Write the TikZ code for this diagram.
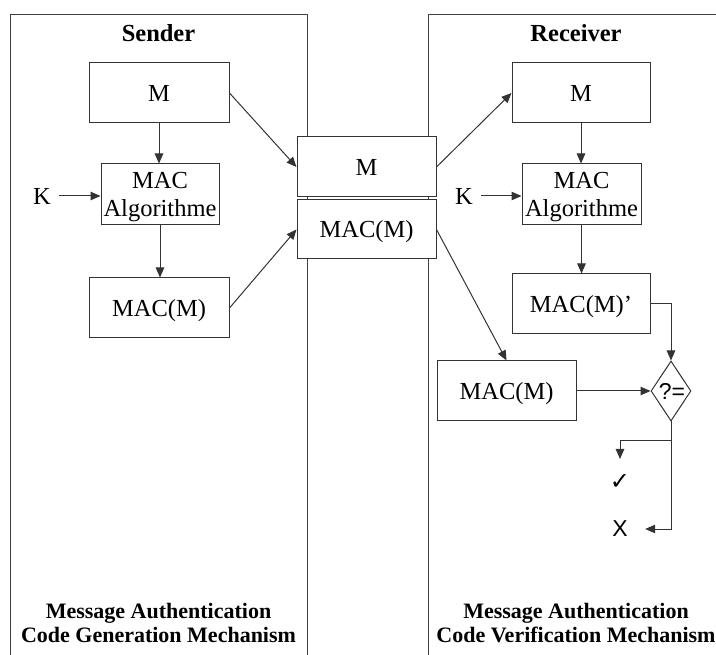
\documentclass[tikz,border=0pt]{standalone}
\usepackage{fontspec}
\setmainfont{Liberation Serif}
\newfontfamily\sansf{Liberation Sans}
\newfontfamily\dejavu{DejaVu Sans}
\usetikzlibrary{arrows.meta,shapes.geometric}
\begin{document}
\begin{tikzpicture}[x=1pt,y=-1pt,
  ln/.style={draw=black!80, line width=1pt},
  arr/.style={ln, -{Triangle[length=10pt,width=8.5pt]}},
  panel/.style={draw=black!75, line width=1pt},
  box/.style={draw=black!80, line width=1pt, fill=white, inner sep=0pt,
    font=\fontsize{24.5}{28}\selectfont, align=center, text depth=0pt},
  head/.style={font=\fontsize{24.5}{26}\selectfont\bfseries},
  foot/.style={font=\fontsize{22}{24}\selectfont\bfseries, align=center},
  lbl/.style={font=\fontsize{24.5}{28}\selectfont, inner sep=0pt, align=center}
]
\useasboundingbox (0,0) rectangle (716,655);
% panels
\draw[panel] (10,655) -- (10,14.5) -- (307,14.5) -- (307,655);
\draw[panel] (716,14.5) -- (428,14.5) -- (428,655);
\node[head] (sh) at (158.5,33) {Sender};
\node[head] (rh) at (576,33) {Receiver};
% sender
\node[box, minimum width=140pt, minimum height=60pt] (lm) at (159,93) {M};
\node[box, minimum width=118pt, minimum height=61pt] (la) at (160,194.5) {};
\node[lbl] (lat) at ([yshift=-3pt]la.center) {MAC\\Algorithme};
\node[box, minimum width=140pt, minimum height=60pt] (lmac) at (159,308) {MAC(M)};
\node[lbl] (k1) at (42,196) {K};
% middle
\node[box, minimum width=139pt, minimum height=60pt] (mm) at (366.5,167) {M};
\node[box, minimum width=139pt, minimum height=59pt] (mmac) at (366.5,229.5) {MAC(M)};
% receiver
\node[box, minimum width=138pt, minimum height=60pt] (rm) at (581,93) {M};
\node[box, minimum width=119pt, minimum height=61pt] (ra) at (581.5,194.5) {};
\node[lbl] (rat) at ([yshift=-3pt]ra.center) {MAC\\Algorithme};
\node[box, minimum width=138pt, minimum height=60pt] (rmp) at (581,304) {MAC(M)’};
\node[box, minimum width=139pt, minimum height=60pt] (rmac) at (506.5,391) {MAC(M)};
\node[lbl] (k2) at (464,196) {K};
\node[diamond, draw=black!80, line width=1pt, minimum width=40pt, minimum height=60pt, inner sep=0pt] (d) at (671,391) {};
\node[font=\sansf\fontsize{23}{26}\selectfont, inner sep=0pt] (dq) at (672,391) {?=};
\node[font=\dejavu\fontsize{24}{26}\selectfont, inner sep=0pt] (ok) at (620,482) {✓};
\node[font=\sansf\fontsize{23}{26}\selectfont, inner sep=0pt, minimum width=50pt] (no) at (620,529) {X};
\coordinate (j) at (671,441);
\coordinate (okt) at (620,459);
% arrows sender
\draw[arr] (lm.south) -- (lm.south |- la.north);
\draw[arr] (la.south) -- (la.south |- lmac.north);
\draw[arr] (k1.east) ++(8,0) -- (k1.east -| la.west);
\draw[arr] (lm.east) -- (mm.west);
\draw[arr] (lmac.east) -- (mmac.west);
% arrows receiver
\draw[arr] (mm.east) -- (rm.west);
\draw[arr] (mmac.east) -- (rmac.north);
\draw[arr] (rm.south) -- (rm.south |- ra.north);
\draw[arr] (ra.south) -- (ra.south |- rmp.north);
\draw[arr] (k2.east) ++(8,0) -- (k2.east -| ra.west);
\draw[arr] (rmp.east) -| (d.north);
\draw[arr] (rmac.east) -- (d.west);
\draw[arr] (d.south) |- (no.east);
\draw[arr] (j) -| (okt);
% footers
\node[foot] (f1) at (158.5,623) {Message Authentication\\Code Generation Mechanism};
\node[foot] (f2) at (576,623) {Message Authentication\\Code Verification Mechanism};
\end{tikzpicture}
\end{document}
